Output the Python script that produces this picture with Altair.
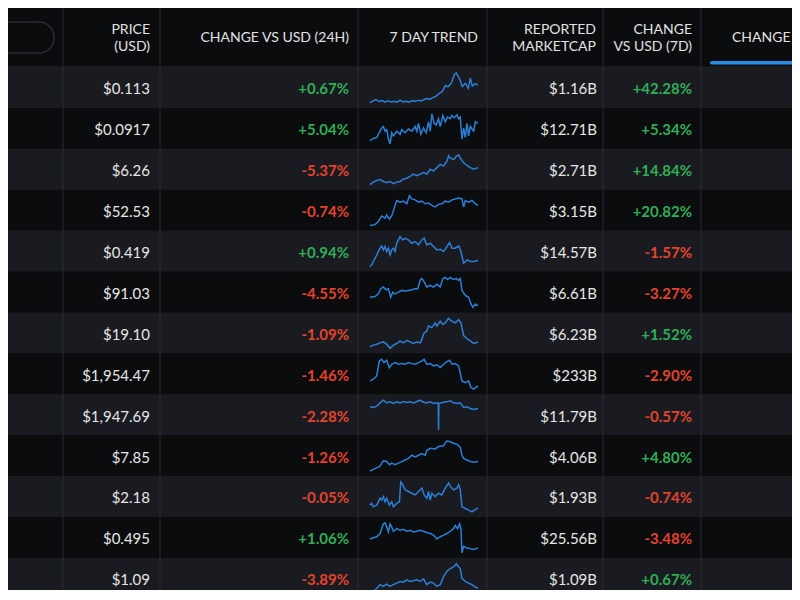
import altair as alt
import pandas as pd

# ---------------- data ----------------
prices = ["$0.113", "$0.0917", "$6.26", "$52.53", "$0.419", "$91.03", "$19.10",
          "$1,954.47", "$1,947.69", "$7.85", "$2.18", "$0.495", "$1.09"]
change_24h = [0.67, 5.04, -5.37, -0.74, 0.94, -4.55, -1.09, -1.46, -2.28, -1.26, -0.05, 1.06, -3.89]
marketcap = ["$1.16B", "$12.71B", "$2.71B", "$3.15B", "$14.57B", "$6.61B", "$6.23B",
             "$233B", "$11.79B", "$4.06B", "$1.93B", "$25.56B", "$1.09B"]
change_7d = [42.28, 5.34, 14.84, 20.82, -1.57, -3.27, 1.52, -2.90, -0.57, 4.80, -0.74, -3.48, 0.67]

header_labels = ["PRICE\n(USD)", "CHANGE VS USD (24H)", "7 DAY TREND",
                 "REPORTED\nMARKETCAP", "CHANGE\nVS USD (7D)"]
last_header = "CHANGE"

# 7-day trend readings: (time step 0..323, relative level)
trend_1 = [(0, 2), (9, 8), (18, 12), (27, 6), (36, 9), (45, 4), (54, 8), (63, 5), (72, 7), (81, 4),
           (90, 10), (99, 5), (108, 7), (117, 4), (126, 9), (135, 6), (144, 10), (153, 8), (162, 12),
           (171, 15), (180, 13), (189, 18), (198, 22), (207, 30), (216, 35), (225, 52), (234, 50),
           (243, 60), (252, 85), (258, 90), (267, 75), (276, 50), (285, 60), (294, 45), (300, 75),
           (306, 52), (315, 58), (323, 55)]
trend_2 = [(0, 10), (10, 17), (20, 20), (30, 40), (35, 50), (40, 55), (45, 40), (50, 45), (55, 15),
           (60, 0), (65, 35), (70, 25), (80, 40), (90, 30), (95, 45), (105, 35), (115, 47), (125, 40),
           (135, 55), (140, 40), (145, 65), (152, 30), (160, 50), (168, 35), (175, 70), (180, 40),
           (185, 95), (192, 65), (198, 60), (205, 80), (210, 55), (218, 90), (225, 70), (232, 85),
           (240, 80), (245, 90), (252, 83), (260, 92), (265, 80), (270, 85), (275, 15), (280, 50),
           (285, 20), (290, 65), (295, 25), (300, 55), (310, 40), (315, 70), (323, 65)]
trend_3 = [(0, 0), (10, 8), (20, 13), (30, 16), (40, 10), (50, 6), (60, 10), (70, 3), (80, 8), (90, 10),
           (100, 18), (110, 20), (120, 26), (130, 33), (140, 28), (150, 33), (160, 38), (170, 33),
           (180, 48), (190, 43), (200, 53), (210, 63), (220, 58), (230, 73), (235, 90), (240, 83),
           (250, 78), (258, 88), (265, 93), (270, 83), (280, 68), (290, 60), (300, 53), (310, 48),
           (323, 53)]
trend_4 = [(0, 0), (15, 3), (25, 13), (35, 30), (45, 23), (50, 33), (58, 20), (65, 30), (72, 53),
           (80, 78), (90, 73), (100, 76), (110, 68), (118, 93), (125, 83), (135, 80), (145, 73),
           (155, 76), (165, 68), (175, 70), (185, 63), (195, 58), (205, 66), (215, 68), (225, 76),
           (235, 73), (245, 80), (255, 83), (265, 86), (275, 83), (280, 58), (285, 78), (295, 73),
           (305, 78), (315, 68), (323, 63)]
trend_5 = [(0, 0), (5, 5), (10, 15), (18, 30), (25, 45), (30, 55), (35, 62), (40, 50), (45, 60),
           (50, 45), (55, 55), (60, 35), (65, 50), (70, 55), (75, 45), (80, 70), (90, 90), (98, 80),
           (105, 85), (115, 80), (125, 70), (135, 75), (145, 65), (155, 80), (162, 85), (170, 65),
           (180, 70), (190, 60), (200, 50), (210, 52), (220, 45), (230, 60), (238, 72), (245, 55),
           (255, 55), (265, 62), (272, 45), (280, 10), (290, 20), (300, 15), (310, 15), (323, 18)]
trend_6 = [(0, 30), (15, 32), (25, 40), (32, 55), (40, 60), (48, 52), (55, 55), (62, 30), (68, 45),
           (75, 40), (85, 45), (95, 50), (105, 48), (115, 50), (125, 52), (135, 55), (143, 55),
           (150, 80), (155, 85), (162, 75), (170, 60), (180, 65), (190, 60), (200, 68), (210, 60),
           (218, 85), (225, 88), (232, 82), (240, 88), (250, 82), (258, 85), (265, 80), (270, 85),
           (275, 50), (285, 35), (295, 30), (302, 10), (308, 0), (315, 10), (323, 5)]
trend_7 = [(0, 5), (10, 10), (20, 13), (30, 17), (40, 20), (50, 13), (60, 0), (70, 10), (80, 15),
           (90, 23), (100, 17), (110, 25), (120, 20), (130, 15), (140, 20), (150, 17), (155, 27),
           (160, 45), (170, 55), (175, 70), (185, 65), (195, 80), (200, 70), (210, 85), (218, 75),
           (225, 80), (235, 94), (245, 85), (255, 80), (265, 90), (272, 80), (280, 40), (290, 30),
           (300, 23), (310, 15), (323, 20)]
trend_8 = [(0, 25), (10, 30), (20, 40), (28, 85), (35, 90), (42, 80), (50, 87), (58, 65), (65, 75),
           (75, 80), (85, 75), (95, 77), (105, 75), (115, 80), (125, 77), (135, 75), (145, 80),
           (155, 85), (162, 90), (170, 75), (180, 77), (190, 70), (200, 73), (210, 65), (220, 75),
           (230, 83), (238, 87), (245, 75), (255, 77), (265, 70), (275, 25), (285, 20), (295, 25),
           (302, 5), (310, 0), (323, 10)]
trend_9 = [(0, 70), (10, 68), (20, 72), (30, 82), (40, 90), (50, 82), (60, 85), (70, 80), (80, 85),
           (90, 82), (100, 86), (110, 83), (120, 85), (130, 82), (140, 86), (150, 90), (160, 84),
           (170, 82), (180, 85), (190, 80), (200, 82), (204, 80), (205, 0), (206, 80), (220, 84),
           (230, 85), (240, 88), (250, 82), (260, 80), (270, 82), (280, 68), (290, 70), (300, 65),
           (310, 62), (323, 65)]
trend_10 = [(0, 0), (10, 5), (20, 10), (30, 15), (35, 25), (40, 32), (50, 30), (58, 20), (65, 25),
            (75, 20), (85, 25), (95, 30), (105, 35), (115, 40), (125, 50), (135, 45), (145, 50),
            (155, 55), (165, 50), (170, 65), (180, 72), (195, 70), (205, 78), (220, 80), (225, 90),
            (230, 95), (240, 93), (250, 88), (260, 85), (270, 75), (275, 50), (280, 40), (290, 35),
            (300, 30), (310, 28), (323, 30)]
trend_11 = [(0, 20), (5, 25), (10, 15), (20, 20), (30, 40), (35, 35), (40, 45), (45, 30), (50, 40),
            (58, 20), (65, 30), (70, 15), (80, 25), (88, 30), (92, 88), (98, 80), (105, 65), (115, 60),
            (125, 55), (135, 50), (145, 60), (155, 70), (162, 50), (170, 40), (175, 60), (180, 35),
            (185, 55), (195, 45), (205, 55), (215, 50), (225, 70), (235, 85), (240, 75), (250, 65),
            (260, 70), (265, 80), (270, 65), (275, 15), (285, 10), (295, 5), (305, 0), (312, 5),
            (323, 12)]
trend_12 = [(0, 43), (10, 47), (20, 50), (30, 60), (35, 75), (40, 90), (45, 93), (50, 80), (55, 65),
            (60, 90), (65, 80), (70, 67), (80, 75), (90, 70), (100, 73), (110, 67), (120, 70),
            (130, 65), (140, 67), (150, 70), (160, 67), (170, 63), (180, 60), (190, 55), (200, 43),
            (210, 50), (220, 55), (230, 60), (240, 67), (250, 75), (255, 85), (262, 75), (268, 90),
            (272, 75), (275, 0), (280, 20), (290, 15), (300, 13), (310, 10), (323, 15)]
trend_13 = [(0, 0), (10, 8), (20, 16), (30, 28), (40, 23), (50, 30), (60, 23), (70, 28), (80, 33),
            (90, 38), (100, 36), (110, 43), (120, 38), (130, 40), (140, 43), (150, 38), (160, 46),
            (170, 28), (180, 36), (190, 33), (200, 23), (210, 28), (220, 53), (230, 70), (240, 78),
            (250, 83), (258, 93), (265, 83), (270, 78), (275, 48), (285, 38), (295, 33), (305, 28),
            (315, 20), (323, 18)]
trends = [trend_1, trend_2, trend_3, trend_4, trend_5, trend_6, trend_7, trend_8, trend_9,
          trend_10, trend_11, trend_12, trend_13]

# ---------------- layout (screen pixel units) ----------------
W, H = 784, 582
X_DOM, Y_DOM = [8, 8 + W], [8, 8 + H]
ROW_TOP, ROW_H = 67, 40.9
COL_LINES = [63, 160, 358, 487, 603, 701]
HEADER_RIGHT = [150, 349, 478, 596, 692]
HEADER_Y = [29, 37, 37, 29, 29]
LAST_HEADER_X = 732
CELL_RIGHT = {"price": 150, "ch24": 349, "mcap": 597, "ch7": 692}
SPARK_X0, SPARK_X1, SPARK_T = 370, 478, 323
FONT = "Lato"
BG, STRIPE, LINE = "#0b0c0e", "#1a1b20", "#2a2b31"
TXT, GREEN, RED, BLUE = "#e6e6e6", "#2fae55", "#e4432d", "#2b7fd6"

xs = alt.Scale(domain=X_DOM, nice=False, zero=False)
ys = alt.Scale(domain=Y_DOM, reverse=True, nice=False, zero=False)

n = len(prices)
rows = pd.DataFrame({"r": range(n)})
rows["top"] = ROW_TOP + rows["r"] * ROW_H
rows["bottom"] = rows["top"] + ROW_H
stripes = rows[rows["r"] % 2 == 0]

cells = []
for i in range(n):
    yc = ROW_TOP + i * ROW_H + ROW_H / 2
    cells.append({"x": CELL_RIGHT["price"], "y": yc, "t": prices[i], "c": TXT, "b": "plain"})
    cells.append({"x": CELL_RIGHT["mcap"], "y": yc, "t": marketcap[i], "c": TXT, "b": "plain"})
    cells.append({"x": CELL_RIGHT["ch24"], "y": yc, "t": f"{change_24h[i]:+.2f}%",
                  "c": GREEN if change_24h[i] >= 0 else RED, "b": "bold"})
    cells.append({"x": CELL_RIGHT["ch7"], "y": yc, "t": f"{change_7d[i]:+.2f}%",
                  "c": GREEN if change_7d[i] >= 0 else RED, "b": "bold"})
cells = pd.DataFrame(cells)

spark = []
for i, tr in enumerate(trends):
    vals = [v for _, v in tr]
    lo, hi = min(vals), max(vals)
    top = ROW_TOP + i * ROW_H
    for t, v in tr:
        spark.append({"r": i, "t": t,
                      "x": SPARK_X0 + (SPARK_X1 - SPARK_X0) * t / SPARK_T,
                      "y": top + 6 + (1 - (v - lo) / (hi - lo)) * (ROW_H - 11)})
spark = pd.DataFrame(spark)

hdr = pd.DataFrame({"t": header_labels, "x": HEADER_RIGHT, "y": HEADER_Y})

X = lambda f: alt.X(f, scale=xs, axis=None)
Y = lambda f: alt.Y(f, scale=ys, axis=None)

stripe_layer = alt.Chart(stripes).mark_rect(color=STRIPE, clip=True).encode(
    x=alt.value(0), x2=alt.value(W), y=Y("top:Q"), y2="bottom:Q")

header_line = alt.Chart(pd.DataFrame({"y": [ROW_TOP]})).mark_rule(color="#1f2025").encode(
    y=Y("y:Q"), x=alt.value(0), x2=alt.value(W))

col_lines = alt.Chart(pd.DataFrame({"x": COL_LINES})).mark_rule(color=LINE, strokeWidth=1).encode(
    x=X("x:Q"), y=alt.value(0), y2=alt.value(H))

search_box = alt.Chart(pd.DataFrame({"x": [-40], "x2": [54], "y": [22], "y2": [53]})).mark_rect(
    fill=BG, fillOpacity=0, stroke="#2a2b30", strokeWidth=1.5, cornerRadius=15, clip=True).encode(
    x=X("x:Q"), x2="x2:Q", y=Y("y:Q"), y2="y2:Q")

tab_bar = alt.Chart(pd.DataFrame({"x": [710], "x2": [830], "y": [61], "y2": [64.5]})).mark_rect(
    color="#2b8be6", cornerRadius=2, clip=True).encode(
    x=X("x:Q"), x2="x2:Q", y=Y("y:Q"), y2="y2:Q")

header_text = alt.Chart(hdr).mark_text(
    align="right", baseline="middle", font=FONT, fontSize=14, color="#e2e2e2",
    lineBreak="\n", lineHeight=17, dy=1).encode(x=X("x:Q"), y=Y("y:Q"), text="t:N")

last_hdr = alt.Chart(pd.DataFrame({"t": [last_header], "x": [LAST_HEADER_X], "y": [37]})).mark_text(
    align="left", baseline="middle", font=FONT, fontSize=14, color="#e2e2e2", dy=1).encode(
    x=X("x:Q"), y=Y("y:Q"), text="t:N")

plain_text = alt.Chart(cells[cells["b"] == "plain"]).mark_text(
    align="right", baseline="middle", font=FONT, fontSize=15, dy=2, clip=True).encode(
    x=X("x:Q"), y=Y("y:Q"), text="t:N", color=alt.Color("c:N", scale=None))

bold_text = alt.Chart(cells[cells["b"] == "bold"]).mark_text(
    align="right", baseline="middle", font=FONT, fontSize=15, fontWeight="bold", dy=2,
    clip=True).encode(
    x=X("x:Q"), y=Y("y:Q"), text="t:N", color=alt.Color("c:N", scale=None))

spark_layer = alt.Chart(spark).mark_line(color=BLUE, strokeWidth=1.5, clip=True).encode(
    x=X("x:Q"), y=Y("y:Q"), detail="r:N", order="t:Q")

chart = alt.layer(
    stripe_layer, header_line, col_lines, search_box, tab_bar,
    header_text, last_hdr, plain_text, bold_text, spark_layer
).properties(
    width=W, height=H, autosize=alt.AutoSizeParams(type="none"), padding=0,
    background=BG
).configure_view(stroke=None)

chart.save("out.html", embed_options={"renderer": "svg", "actions": False})
